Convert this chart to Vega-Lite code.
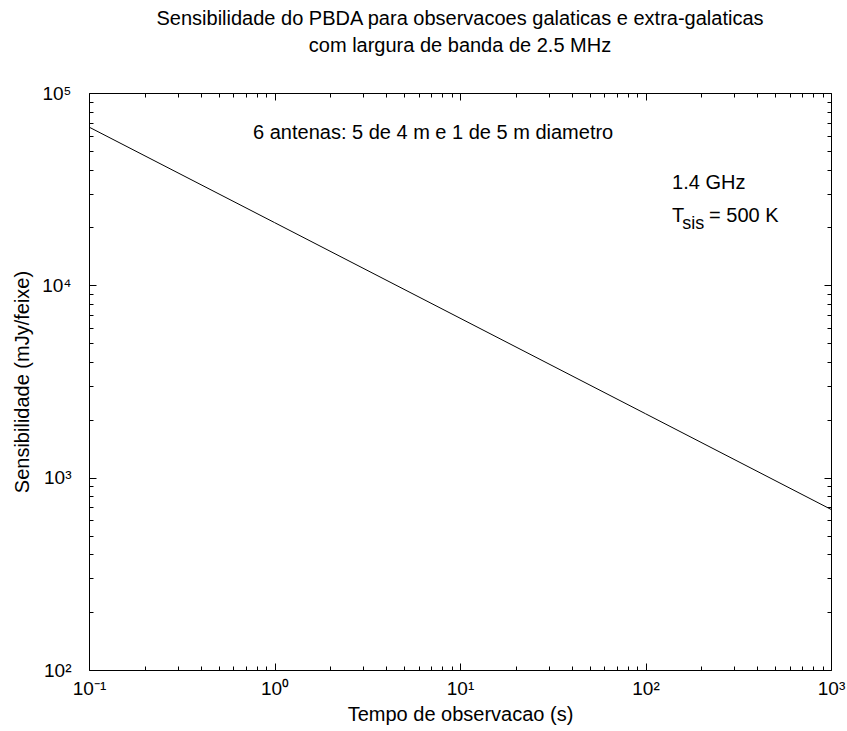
{
  "$schema": "https://vega.github.io/schema/vega-lite/v6.json",
  "width": 742,
  "height": 577,
  "autosize": {"type": "none"},
  "padding": {"left": 89, "top": 93, "right": 16, "bottom": 61},
  "background": "white",
  "config": {
    "view": {"stroke": null},
    "font": "Liberation Sans",
    "axis": {
      "grid": false,
      "domainColor": "black",
      "tickColor": "black",
      "labelColor": "black",
      "titleColor": "black",
      "labelFont": "Liberation Sans",
      "titleFont": "Liberation Sans",
      "titleFontWeight": "normal",
      "labelFontSize": 19,
      "titleFontSize": 20,
      "domainWidth": 1,
      "tickWidth": 1,
      "labelFlush": false,
      "labelOverlap": false
    }
  },
  "title": {
    "text": ["Sensibilidade do PBDA para observacoes galaticas e extra-galaticas", "com largura de banda de 2.5 MHz"],
    "fontSize": 20,
    "fontWeight": "normal",
    "font": "Liberation Sans",
    "color": "black",
    "lineHeight": 27,
    "anchor": "middle",
    "offset": 28
  },
  "datasets": {
    "curve": [
      {"t": 0.1, "s": 66500},
      {"t": 1, "s": 21200},
      {"t": 10, "s": 6750},
      {"t": 100, "s": 2150},
      {"t": 1000, "s": 684}
    ],
    "notes": [
      {"label": "6 antenas: 5 de 4 m e 1 de 5 m diametro", "t": 0.766, "s": 61900},
      {"label": "1.4 GHz", "t": 139, "s": 34200}
    ],
    "temp": [
      {"label": "T", "t": 139, "s": 23000},
      {"label": "= 500 K", "t": 220, "s": 23000}
    ],
    "sub": [
      {"label": "sis", "t": 158, "s": 20800}
    ]
  },
  "resolve": {"axis": {"x": "independent", "y": "independent"}},
  "layer": [
    {
      "data": {"name": "curve"},
      "mark": {"type": "line", "color": "black", "strokeWidth": 1},
      "encoding": {
        "x": {
          "field": "t", "type": "quantitative",
          "scale": {"type": "log", "domain": [0.1, 1000], "nice": false},
          "axis": {
            "orient": "bottom", "values": [0.1, 1, 10, 100, 1000], "tickSize": -7,
            "labelPadding": 16,
            "labelExpr": "datum.value < 0.5 ? '10⁻¹' : datum.value < 5 ? '10⁰' : datum.value < 50 ? '10¹' : datum.value < 500 ? '10²' : '10³'",
            "title": "Tempo de observacao (s)", "titlePadding": 6
          }
        },
        "y": {
          "field": "s", "type": "quantitative",
          "scale": {"type": "log", "domain": [100, 100000], "nice": false},
          "axis": {
            "orient": "left", "values": [100, 1000, 10000, 100000], "tickSize": -7,
            "labelPadding": 25,
            "labelExpr": "datum.value < 500 ? '10²' : datum.value < 5000 ? '10³' : datum.value < 50000 ? '10⁴' : '10⁵'",
            "title": "Sensibilidade (mJy/feixe)", "titlePadding": 9
          }
        }
      }
    },
    {
      "data": {"name": "notes"},
      "mark": {"type": "text", "align": "left", "baseline": "middle", "fontSize": 20, "font": "Liberation Sans", "color": "black"},
      "encoding": {
        "x": {
          "field": "t", "type": "quantitative",
          "scale": {"type": "log", "domain": [0.1, 1000], "nice": false},
          "axis": {"orient": "top", "values": [0.1, 1, 10, 100, 1000], "tickSize": -7, "labels": false, "title": null}
        },
        "y": {
          "field": "s", "type": "quantitative",
          "scale": {"type": "log", "domain": [100, 100000], "nice": false},
          "axis": {"orient": "right", "values": [100, 1000, 10000, 100000], "tickSize": -7, "labels": false, "title": null}
        },
        "text": {"field": "label"}
      }
    },
    {
      "data": {"name": "sub"},
      "mark": {"type": "text", "align": "left", "baseline": "middle", "fontSize": 18, "font": "Liberation Sans", "color": "black"},
      "encoding": {
        "x": {
          "field": "t", "type": "quantitative",
          "scale": {"type": "log", "domain": [0.1, 1000], "nice": false},
          "axis": {"orient": "bottom", "values": [0.2, 0.3, 0.4, 0.5, 0.6, 0.7, 0.8, 0.9, 2, 3, 4, 5, 6, 7, 8, 9, 20, 30, 40, 50, 60, 70, 80, 90, 200, 300, 400, 500, 600, 700, 800, 900], "tickSize": -4, "labels": false, "domain": false, "title": null}
        },
        "y": {
          "field": "s", "type": "quantitative",
          "scale": {"type": "log", "domain": [100, 100000], "nice": false},
          "axis": {"orient": "left", "values": [200, 300, 400, 500, 600, 700, 800, 900, 2000, 3000, 4000, 5000, 6000, 7000, 8000, 9000, 20000, 30000, 40000, 50000, 60000, 70000, 80000, 90000], "tickSize": -4, "labels": false, "domain": false, "title": null}
        },
        "text": {"field": "label"}
      }
    },
    {
      "data": {"name": "temp"},
      "mark": {"type": "text", "align": "left", "baseline": "middle", "fontSize": 20, "font": "Liberation Sans", "color": "black"},
      "encoding": {
        "x": {
          "field": "t", "type": "quantitative",
          "scale": {"type": "log", "domain": [0.1, 1000], "nice": false},
          "axis": {"orient": "top", "values": [0.2, 0.3, 0.4, 0.5, 0.6, 0.7, 0.8, 0.9, 2, 3, 4, 5, 6, 7, 8, 9, 20, 30, 40, 50, 60, 70, 80, 90, 200, 300, 400, 500, 600, 700, 800, 900], "tickSize": -4, "labels": false, "domain": false, "title": null}
        },
        "y": {
          "field": "s", "type": "quantitative",
          "scale": {"type": "log", "domain": [100, 100000], "nice": false},
          "axis": {"orient": "right", "values": [200, 300, 400, 500, 600, 700, 800, 900, 2000, 3000, 4000, 5000, 6000, 7000, 8000, 9000, 20000, 30000, 40000, 50000, 60000, 70000, 80000, 90000], "tickSize": -4, "labels": false, "domain": false, "title": null}
        },
        "text": {"field": "label"}
      }
    }
  ]
}
